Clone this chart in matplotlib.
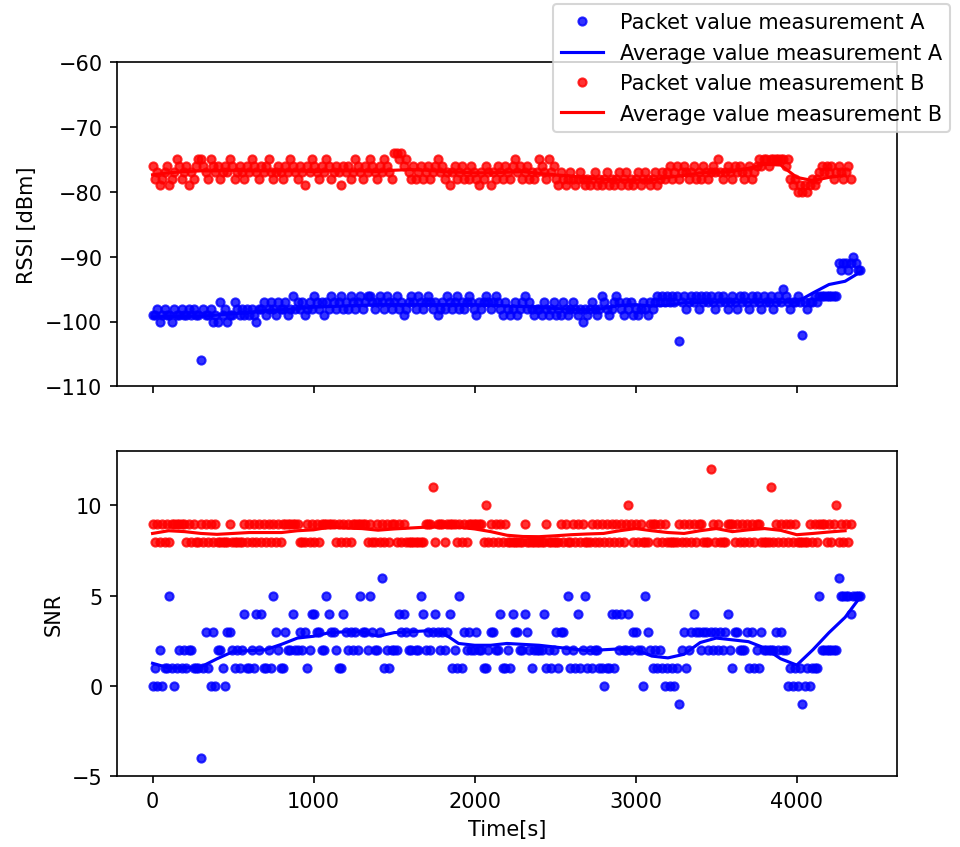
#!/usr/bin/env python3
import matplotlib
matplotlib.use('Agg')
import matplotlib.pyplot as plt

# Packet timestamps [s]
time_a = [
    0, 15, 30, 45, 60, 75, 90, 105, 120, 135, 150, 165, 180, 195, 210, 225, 240, 255, 270, 285,
    300, 315, 330, 345, 360, 375, 390, 405, 420, 435, 450, 465, 480, 495, 510, 525, 540, 555, 570, 585,
    600, 615, 630, 645, 660, 675, 690, 705, 720, 735, 750, 765, 780, 795, 810, 825, 840, 855, 870, 885,
    900, 915, 930, 945, 960, 975, 990, 1005, 1020, 1035, 1050, 1065, 1080, 1095, 1110, 1125, 1140, 1155, 1170, 1185,
    1200, 1215, 1230, 1245, 1260, 1275, 1290, 1305, 1320, 1335, 1350, 1365, 1380, 1395, 1410, 1425, 1440, 1455, 1470, 1485,
    1500, 1515, 1530, 1545, 1560, 1575, 1590, 1605, 1620, 1635, 1650, 1665, 1680, 1695, 1710, 1725, 1740, 1755, 1770, 1785,
    1800, 1815, 1830, 1845, 1860, 1875, 1890, 1905, 1920, 1935, 1950, 1965, 1980, 1995, 2010, 2025, 2040, 2055, 2070, 2085,
    2100, 2115, 2130, 2145, 2160, 2175, 2190, 2205, 2220, 2235, 2250, 2265, 2280, 2295, 2310, 2325, 2340, 2355, 2370, 2385,
    2400, 2415, 2430, 2445, 2460, 2475, 2490, 2505, 2520, 2535, 2550, 2565, 2580, 2595, 2610, 2625, 2640, 2655, 2670, 2685,
    2700, 2715, 2730, 2745, 2760, 2775, 2790, 2805, 2820, 2835, 2850, 2865, 2880, 2895, 2910, 2925, 2940, 2955, 2970, 2985,
    3000, 3015, 3030, 3045, 3060, 3075, 3090, 3105, 3120, 3135, 3150, 3165, 3180, 3195, 3210, 3225, 3240, 3255, 3270, 3285,
    3300, 3315, 3330, 3345, 3360, 3375, 3390, 3405, 3420, 3435, 3450, 3465, 3480, 3495, 3510, 3525, 3540, 3555, 3570, 3585,
    3600, 3615, 3630, 3645, 3660, 3675, 3690, 3705, 3720, 3735, 3750, 3765, 3780, 3795, 3810, 3825, 3840, 3855, 3870, 3885,
    3900, 3915, 3930, 3945, 3960, 3975, 3990, 4005, 4020, 4035, 4050, 4065, 4080, 4095, 4110, 4125, 4140, 4155, 4170, 4185,
    4200, 4215, 4230, 4245, 4260, 4275, 4290, 4305, 4320, 4335, 4350, 4365, 4380, 4395,
]
time_b = time_a[:290]

rssi_a = [
    -99, -99, -98, -100, -99, -98, -99, -99, -100, -98, -99, -99, -98, -99, -99, -98, -99, -98, -99, -99,
    -106, -98, -99, -99, -98, -100, -99, -100, -97, -99, -98, -100, -99, -99, -97, -98, -99, -98, -99, -98,
    -99, -98, -99, -100, -98, -98, -97, -99, -98, -97, -98, -99, -97, -98, -98, -97, -99, -98, -96, -98,
    -97, -98, -97, -99, -98, -97, -98, -96, -97, -98, -97, -99, -97, -98, -96, -97, -98, -97, -96, -98,
    -97, -98, -96, -97, -98, -97, -96, -98, -97, -96, -96, -97, -98, -97, -96, -97, -98, -96, -97, -98,
    -97, -96, -98, -97, -99, -98, -97, -96, -97, -98, -96, -97, -98, -97, -96, -97, -98, -97, -99, -98,
    -97, -98, -96, -97, -98, -97, -96, -98, -97, -98, -97, -96, -97, -98, -99, -97, -98, -97, -96, -97,
    -98, -97, -96, -97, -98, -99, -97, -98, -99, -98, -97, -99, -98, -97, -96, -98, -97, -98, -99, -98,
    -98, -99, -97, -98, -99, -98, -97, -99, -98, -99, -97, -98, -99, -98, -97, -98, -99, -98, -100, -98,
    -99, -98, -97, -98, -99, -98, -96, -97, -98, -99, -98, -97, -96, -97, -98, -99, -97, -98, -97, -99,
    -98, -99, -98, -97, -98, -99, -97, -98, -97, -96, -97, -96, -97, -96, -97, -96, -97, -96, -103, -97,
    -96, -98, -97, -96, -97, -96, -98, -96, -97, -96, -97, -96, -97, -98, -96, -97, -96, -97, -98, -97,
    -96, -97, -98, -96, -97, -96, -97, -98, -96, -97, -96, -97, -98, -96, -97, -97, -96, -98, -97, -96,
    -97, -95, -96, -97, -98, -97, -97, -96, -97, -102, -97, -98, -97, -97, -96, -97, -96, -96, -96, -96,
    -96, -96, -96, -96, -91, -92, -91, -91, -92, -91, -90, -91, -92, -92,
]
rssi_b = [
    -76, -78, -77, -79, -78, -77, -76, -79, -78, -77, -75, -76, -78, -77, -76, -79, -77, -78, -76, -75,
    -75, -76, -77, -78, -75, -76, -77, -76, -78, -77, -76, -77, -75, -76, -78, -77, -76, -77, -78, -76,
    -77, -75, -76, -77, -78, -76, -77, -76, -75, -77, -78, -77, -76, -77, -78, -76, -77, -75, -76, -77,
    -78, -76, -77, -79, -76, -77, -75, -76, -77, -78, -76, -77, -75, -76, -78, -77, -76, -77, -79, -76,
    -77, -76, -78, -77, -75, -76, -77, -78, -76, -77, -75, -76, -77, -78, -76, -77, -75, -76, -77, -78,
    -74, -74, -75, -74, -76, -75, -77, -78, -76, -78, -77, -76, -78, -77, -76, -78, -77, -76, -75, -77,
    -76, -78, -77, -79, -77, -76, -78, -77, -76, -78, -77, -78, -76, -77, -78, -79, -77, -78, -76, -77,
    -79, -77, -78, -76, -77, -78, -76, -77, -78, -76, -75, -77, -76, -78, -77, -76, -78, -77, -78, -77,
    -75, -76, -77, -78, -75, -77, -76, -78, -79, -77, -78, -79, -78, -77, -78, -79, -78, -77, -78, -79,
    -78, -79, -78, -77, -79, -78, -79, -78, -77, -79, -78, -79, -78, -77, -79, -78, -77, -79, -78, -79,
    -78, -77, -79, -78, -77, -78, -79, -78, -77, -79, -78, -77, -78, -77, -76, -78, -77, -76, -78, -77,
    -76, -77, -78, -77, -76, -78, -77, -78, -76, -77, -78, -77, -76, -77, -75, -77, -78, -77, -76, -77,
    -78, -76, -77, -76, -77, -78, -77, -76, -78, -77, -76, -75, -76, -75, -75, -76, -75, -75, -75, -75,
    -75, -75, -76, -75, -78, -79, -78, -80, -79, -80, -79, -80, -79, -78, -79, -78, -77, -76, -77, -76,
    -77, -76, -78, -77, -76, -77, -78, -77, -76, -78,
]

snr_a = [
    0, 1, 0, 2, 0, 1, 1, 5, 1, 0, 1, 2, 1, 2, 1, 2, 2, 1, 1, 1,
    -4, 1, 3, 1, 0, 3, 0, 2, 2, 1, 0, 3, 3, 2, 1, 2, 1, 2, 4, 1,
    1, 2, 1, 4, 2, 4, 1, 1, 2, 1, 5, 3, 2, 1, 1, 3, 2, 2, 4, 2,
    2, 3, 2, 3, 1, 2, 4, 4, 3, 3, 2, 2, 5, 4, 3, 3, 2, 1, 1, 4,
    3, 2, 3, 2, 3, 2, 5, 3, 3, 2, 5, 3, 2, 2, 3, 6, 1, 2, 1, 2,
    2, 2, 4, 3, 4, 3, 2, 2, 3, 2, 2, 5, 4, 2, 3, 2, 3, 4, 3, 2,
    3, 2, 3, 4, 1, 2, 1, 5, 1, 3, 2, 3, 2, 2, 3, 2, 2, 1, 1, 2,
    3, 3, 2, 2, 4, 1, 1, 2, 1, 4, 3, 3, 2, 2, 4, 3, 2, 1, 2, 2,
    2, 2, 4, 1, 2, 1, 2, 3, 1, 3, 3, 2, 5, 1, 2, 1, 4, 1, 2, 5,
    1, 2, 1, 2, 2, 1, 1, 0, 1, 1, 4, 1, 4, 2, 4, 2, 2, 4, 2, 3,
    3, 2, 2, 0, 5, 3, 2, 1, 2, 1, 2, 1, 0, 1, 0, 1, 0, 1, -1, 2,
    3, 1, 2, 3, 4, 3, 3, 2, 3, 3, 2, 3, 2, 3, 2, 3, 2, 3, 4, 2,
    1, 3, 3, 2, 2, 2, 3, 1, 3, 1, 2, 1, 3, 2, 2, 2, 2, 2, 3, 2,
    3, 2, 2, 0, 1, 0, 1, 0, 1, -1, 0, 1, 0, 1, 1, 1, 5, 2, 2, 2,
    2, 2, 2, 2, 6, 5, 5, 5, 5, 4, 5, 5, 5, 5,
]
snr_b = [
    9, 8, 9, 8, 9, 8, 9, 8, 9, 9, 9, 9, 9, 9, 8, 9, 8, 9, 8, 8,
    9, 8, 9, 8, 9, 8, 9, 8, 8, 8, 8, 8, 9, 8, 8, 8, 8, 8, 9, 8,
    9, 8, 9, 8, 9, 8, 9, 8, 9, 8, 9, 8, 9, 8, 9, 9, 9, 9, 9, 9,
    9, 8, 8, 8, 9, 8, 9, 8, 9, 8, 9, 9, 9, 9, 9, 9, 8, 9, 8, 9,
    8, 9, 8, 9, 9, 9, 9, 9, 9, 8, 9, 8, 8, 9, 8, 9, 8, 9, 8, 9,
    9, 8, 9, 8, 9, 8, 8, 8, 8, 8, 8, 8, 8, 9, 9, 9, 11, 8, 9, 9,
    9, 8, 9, 9, 9, 9, 8, 9, 8, 9, 8, 9, 9, 9, 9, 9, 9, 8, 10, 8,
    9, 8, 9, 8, 9, 8, 9, 8, 8, 8, 8, 8, 8, 8, 9, 8, 8, 8, 8, 8,
    8, 8, 8, 9, 8, 8, 8, 8, 8, 9, 8, 9, 8, 8, 9, 8, 9, 8, 9, 8,
    8, 8, 9, 8, 9, 8, 9, 8, 9, 8, 9, 8, 9, 8, 9, 8, 9, 10, 9, 8,
    9, 8, 9, 8, 8, 8, 9, 9, 9, 8, 9, 8, 9, 8, 8, 8, 8, 8, 9, 8,
    9, 8, 9, 8, 9, 8, 9, 9, 8, 8, 8, 12, 9, 8, 9, 8, 8, 8, 9, 9,
    9, 8, 9, 8, 9, 8, 9, 8, 9, 8, 9, 9, 8, 8, 8, 8, 11, 8, 9, 8,
    9, 8, 9, 8, 9, 8, 9, 8, 8, 8, 8, 8, 9, 8, 9, 8, 9, 9, 9, 8,
    9, 8, 9, 10, 8, 9, 8, 9, 8, 9,
]

# Running averages, sampled every 100 s
avg_time = [
    0, 100, 200, 300, 400, 500, 600, 700, 800, 900, 1000, 1100, 1200, 1300, 1400,
    1500, 1600, 1700, 1800, 1900, 2000, 2100, 2200, 2300, 2400, 2500, 2600, 2700,
    2800, 2900, 3000, 3100, 3200, 3300, 3400, 3500, 3600, 3700, 3800, 3900, 4000,
    4100, 4200, 4300, 4400,
]
rssi_avg_a = [
    -99.3, -99.2, -99.2, -99.2, -99.0, -98.8, -98.6, -98.3, -98.2, -98.0, -97.8,
    -97.7, -97.6, -97.5, -97.4, -97.4, -97.4, -97.4, -97.4, -97.4, -97.4, -97.5,
    -97.6, -97.7, -97.8, -98.0, -98.1, -98.2, -98.0, -97.5, -97.4, -97.6, -97.5,
    -97.1, -97.1, -97.0, -97.0, -97.0, -97.0, -97.0, -97.0, -95.6, -94.3, -93.8,
    -92.3,
]
rssi_avg_b = [
    -77.4, -77.1, -76.9, -76.8, -76.8, -76.7, -76.8, -76.8, -76.8, -76.8, -76.9,
    -76.8, -76.8, -76.8, -76.9, -76.7, -76.6, -76.7, -76.9, -77.0, -77.1, -77.1,
    -77.0, -76.9, -77.2, -77.4, -77.6, -77.9, -78.1, -78.2, -78.2, -78.2, -77.8,
    -77.5, -77.1, -77.0, -76.9, -76.4, -75.8, -75.9, -77.8, -78.3, -77.8, -77.5,
]
snr_avg_a = [
    1.25, 1.0, 1.0, 1.05, 1.5, 1.9, 1.95, 2.0, 2.3, 2.65, 2.75, 2.95, 3.0, 3.0,
    2.75, 2.95, 3.0, 3.05, 2.95, 2.35, 2.25, 2.25, 2.35, 2.3, 2.25, 2.15, 2.05,
    1.95, 2.0, 2.05, 2.0, 1.65, 1.55, 1.75, 2.4, 2.65, 2.55, 2.45, 2.1, 1.5, 1.15,
    2.0, 2.95, 3.8, 5.0,
]
snr_avg_b = [
    8.45, 8.6, 8.55, 8.45, 8.4, 8.45, 8.5, 8.5, 8.5, 8.6, 8.65, 8.8, 8.75, 8.72,
    8.63, 8.7, 8.75, 8.8, 8.8, 8.8, 8.7, 8.55, 8.35, 8.28, 8.27, 8.32, 8.38, 8.42,
    8.45, 8.6, 8.72, 8.6, 8.5, 8.45, 8.6, 8.72, 8.55, 8.65, 8.72, 8.62, 8.38, 8.45,
    8.53, 8.6,
]


def draw_panel(ax, y_a, avg_a, y_b, avg_b):
    """Packet values as dots, running averages as lines"""
    ax.plot(time_a, y_a, 'o', ms=3.9, color='b', alpha=0.8,
            label='Packet value measurement A')
    ax.plot(avg_time[:len(avg_a)], avg_a, color='b',
            label='Average value measurement A')
    ax.plot(time_b, y_b, 'o', ms=3.9, color='r', alpha=0.8,
            label='Packet value measurement B')
    ax.plot(avg_time[:len(avg_b)], avg_b, color='r',
            label='Average value measurement B')


def plot_results():
    fig, (ax1, ax2) = plt.subplots(2, 1, sharex=True, figsize=(6.4, 5.653), dpi=150)
    fig.subplots_adjust(left=0.122, right=0.934, top=0.926, bottom=0.0837, hspace=0.2)

    draw_panel(ax1, rssi_a, rssi_avg_a, rssi_b, rssi_avg_b)
    ax1.set_ylim(-110, -60)
    ax1.set_ylabel('RSSI [dBm]')
    ax1.legend(loc='upper left', bbox_to_anchor=(0.576, 0.994),
               bbox_transform=fig.transFigure, borderaxespad=0)

    draw_panel(ax2, snr_a, snr_avg_a, snr_b, snr_avg_b)
    ax2.set_ylim(-5, 13)
    ax2.set_yticks([-5, 0, 5, 10])
    ax2.set_ylabel('SNR')
    ax2.set_xlabel('Time[s]')
    ax2.set_xticks([0, 1000, 2000, 3000, 4000])

    fig.savefig('out.png', dpi=150)
    plt.close(fig)


if __name__ == "__main__":
    plot_results()
